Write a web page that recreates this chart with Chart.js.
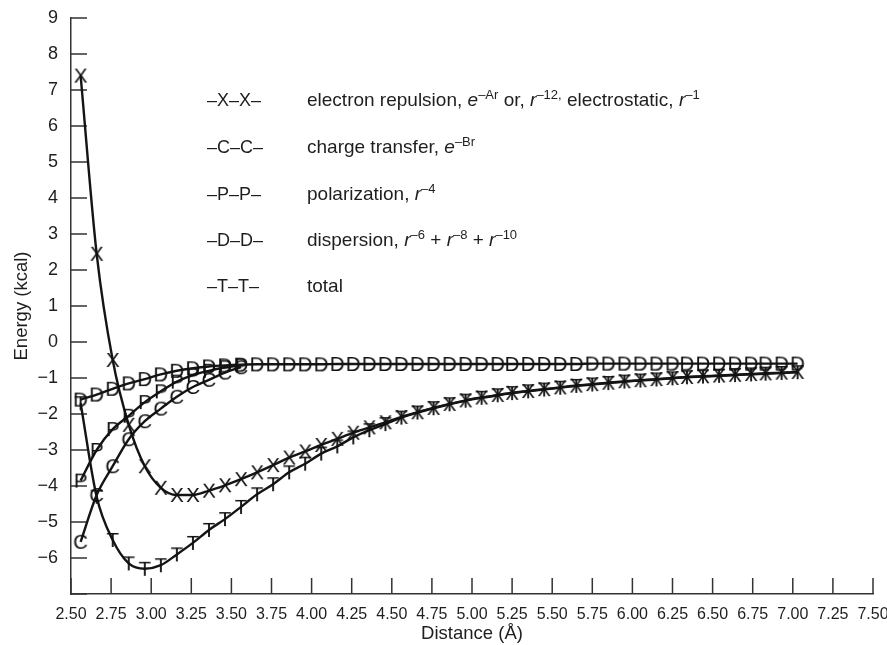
<!DOCTYPE html>
<html>
<head>
<meta charset="utf-8">
<script src="https://cdn.jsdelivr.net/npm/chart.js@4.4.1/dist/chart.umd.min.js"></script>
<style>
  body { margin: 0; background: #fff; }
  #wrap { position: relative; width: 887px; height: 645px; }
  #key { position: absolute; left: 0; top: 0; font-family: "Liberation Sans", Arial, sans-serif; font-size: 18px; color: #1e1e1e; }
  .row { position: absolute; left: 0; white-space: nowrap; line-height: 22px; }
  .tag { position: absolute; left: 207px; }
  .txt { position: absolute; left: 307px; font-size: 19px; }
  .txt i { font-style: italic; }
  .txt sup { font-size: 13px; vertical-align: 0; position: relative; top: -7px; }
</style>
</head>
<body>
<div id="wrap">
  <canvas id="energyChart" width="887" height="645"></canvas>
  <div id="key"></div>
</div>
<script>
// distance grid (Å) shared by all curves
let distance = [2.56, 2.66, 2.76, 2.86, 2.96, 3.06, 3.16, 3.26, 3.36, 3.46,
  3.56, 3.66, 3.76, 3.86, 3.96, 4.06, 4.16, 4.26, 4.36, 4.46,
  4.56, 4.66, 4.76, 4.86, 4.96, 5.06, 5.16, 5.25, 5.35, 5.45,
  5.55, 5.65, 5.75, 5.85, 5.95, 6.05, 6.15, 6.25, 6.34, 6.44,
  6.54, 6.64, 6.74, 6.83, 6.93, 7.03];

let repulsion = [7.4, 2.45, -0.5, -2.3, -3.45, -4.05, -4.25, -4.25, -4.13, -3.98,
  -3.81, -3.62, -3.42, -3.21, -3.04, -2.86, -2.69, -2.52, -2.37, -2.23,
  -2.08, -1.95, -1.83, -1.72, -1.62, -1.54, -1.47, -1.41, -1.36, -1.31,
  -1.26, -1.21, -1.17, -1.13, -1.09, -1.06, -1.03, -1.0, -0.97, -0.95,
  -0.93, -0.91, -0.89, -0.87, -0.85, -0.83];

let chargeTransfer = [-5.55, -4.25, -3.45, -2.7, -2.2, -1.85, -1.52, -1.25, -1.05, -0.85, -0.7];

let polarization = [-3.85, -3.0, -2.42, -2.05, -1.67, -1.37, -1.1, -0.92, -0.8, -0.7, -0.65];

let dispersion = [-1.6, -1.46, -1.3, -1.15, -1.03, -0.9, -0.8, -0.73, -0.68, -0.65,
  -0.63, -0.62, -0.62, -0.62, -0.62, -0.62, -0.61, -0.61, -0.61, -0.61,
  -0.61, -0.61, -0.61, -0.61, -0.61, -0.61, -0.61, -0.61, -0.61, -0.61,
  -0.61, -0.61, -0.6, -0.6, -0.6, -0.6, -0.6, -0.6, -0.6, -0.6,
  -0.6, -0.6, -0.6, -0.6, -0.6, -0.6];

let total = [-1.7, -4.3, -5.5, -6.15, -6.3, -6.2, -5.9, -5.58, -5.22, -4.92,
  -4.58, -4.23, -3.95, -3.62, -3.38, -3.1, -2.9, -2.65, -2.45, -2.28,
  -2.1, -1.96, -1.84, -1.73, -1.63, -1.55, -1.48, -1.42, -1.37, -1.32,
  -1.27, -1.22, -1.18, -1.14, -1.1, -1.07, -1.04, -1.01, -0.98, -0.96,
  -0.94, -0.92, -0.9, -0.88, -0.86, -0.84];

let xTicks = [2.5, 2.75, 3.0, 3.25, 3.5, 3.75, 4.0, 4.25, 4.5, 4.75, 5.0,
  5.25, 5.5, 5.75, 6.0, 6.25, 6.5, 6.75, 7.0, 7.25, 7.5];
let yTicks = [-7, -6, -5, -4, -3, -2, -1, 0, 1, 2, 3, 4, 5, 6, 7, 8, 9];

let keyTags = ["\u2013X\u2013X\u2013", "\u2013C\u2013C\u2013", "\u2013P\u2013P\u2013", "\u2013D\u2013D\u2013", "\u2013T\u2013T\u2013"];
let keyTexts = [
  "electron repulsion, <i>e</i><sup>\u2013Ar</sup> or, <i>r</i><sup>\u201312,</sup> electrostatic, <i>r</i><sup>\u20131</sup>",
  "charge transfer, <i>e</i><sup>\u2013Br</sup>",
  "polarization, <i>r</i><sup>\u20134</sup>",
  "dispersion, <i>r</i><sup>\u20136</sup> + <i>r</i><sup>\u20138</sup> + <i>r</i><sup>\u201310</sup>",
  "total"
];
let keyRows = [89, 136, 183, 229, 275];

let fam = "'Liberation Sans', Arial, sans-serif";
let ink = "#1e1e1e";

// legend block
let key = document.getElementById("key");
keyTags.forEach(function(tag, i){
  let row = document.createElement("div");
  row.className = "row";
  row.style.top = keyRows[i] + "px";
  row.innerHTML = '<span class="tag">' + tag + '</span><span class="txt">' + keyTexts[i] + '</span>';
  key.appendChild(row);
});

// letters used as point markers
function letterMark(ch){
  let c = document.createElement("canvas");
  c.width = 26; c.height = 26;
  let g = c.getContext("2d");
  g.fillStyle = "#111";
  g.font = "20.5px " + fam;
  g.textAlign = "center";
  g.textBaseline = "alphabetic";
  g.fillText(ch, 13, 20.4);
  return c;
}

function pairs(ys){
  return ys.map(function(y, i){ return {x: distance[i], y: y}; });
}

function curve(ys, ch){
  return {
    data: pairs(ys),
    showLine: true,
    borderColor: "#141414",
    borderWidth: 2.4,
    cubicInterpolationMode: "monotone",
    pointStyle: letterMark(ch),
    pointRadius: 8,
    pointHoverRadius: 8
  };
}

// tick marks pointing into the plot
let innerTicks = {
  id: "innerTicks",
  beforeDatasetsDraw(chart){
    let ctx = chart.ctx, a = chart.chartArea, x = chart.scales.x, y = chart.scales.y;
    ctx.save();
    ctx.strokeStyle = "#333";
    ctx.lineWidth = 1.5;
    ctx.beginPath();
    xTicks.forEach(function(v){
      let px = x.getPixelForValue(v);
      ctx.moveTo(px, a.bottom); ctx.lineTo(px, a.bottom - 16);
    });
    yTicks.forEach(function(v){
      let py = y.getPixelForValue(v);
      ctx.moveTo(a.left, py); ctx.lineTo(a.left + 16, py);
    });
    ctx.stroke();
    ctx.restore();
  }
};

new Chart("energyChart", {
  type: "scatter",
  data: {
    datasets: [
      curve(dispersion, "D"),
      curve(polarization, "P"),
      curve(chargeTransfer, "C"),
      curve(repulsion, "X"),
      curve(total, "T")
    ]
  },
  options: {
    responsive: false,
    animation: false,
    devicePixelRatio: 1,
    layout: { padding: { top: 18, right: 14, left: 0, bottom: 0 } },
    plugins: { legend: { display: false }, tooltip: { enabled: false } },
    scales: {
      x: {
        type: "linear", min: 2.5, max: 7.5,
        afterBuildTicks: function(s){ s.ticks = xTicks.map(function(v){ return {value: v}; }); },
        afterFit: function(s){ s.height = 51; s.paddingLeft = 0; s.paddingRight = 0; },
        grid: { display: false },
        border: { display: true, color: "#333", width: 1.5 },
        ticks: { color: ink, font: { size: 16, family: fam }, padding: 3, maxRotation: 0, autoSkip: false,
          callback: function(v){ return v.toFixed(2); } },
        title: { display: true, text: "Distance (Å)", color: ink, font: { size: 18.5, family: fam }, padding: { top: 0, bottom: 0 } }
      },
      y: {
        min: -7, max: 9,
        afterBuildTicks: function(s){ s.ticks = yTicks.map(function(v){ return {value: v}; }); },
        afterFit: function(s){ s.width = 71; s.paddingTop = 0; s.paddingBottom = 0; },
        grid: { display: false },
        border: { display: true, color: "#333", width: 1.5 },
        ticks: { color: ink, font: { size: 18, family: fam }, padding: 5,
          callback: function(v){ return v === -7 ? "" : String(v).replace("-", "\u2212"); } },
        title: { display: true, text: "Energy (kcal)", color: ink, font: { size: 18.5, family: fam }, padding: { top: 11, bottom: 0 } }
      }
    }
  },
  plugins: [innerTicks]
});
</script>
</body>
</html>
